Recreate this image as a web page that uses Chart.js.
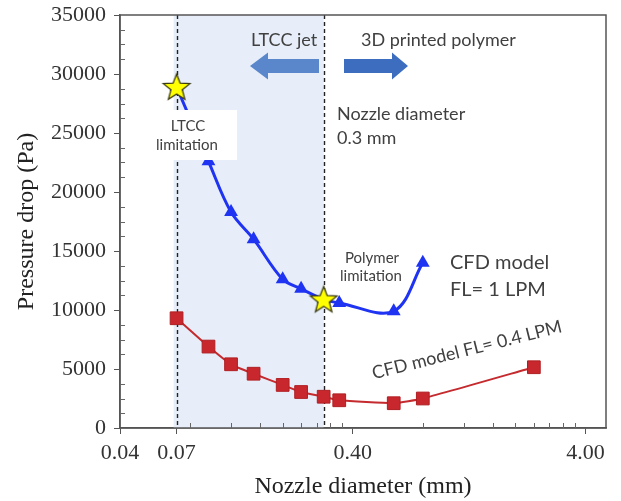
<!DOCTYPE html>
<html>
<head>
<meta charset="utf-8">
<script src="https://cdn.jsdelivr.net/npm/chart.js@4.4.1/dist/chart.umd.min.js"></script>
<style>
html, body { margin: 0; padding: 0; background: #fff; }
</style>
</head>
<body>
<canvas id="chart" width="621" height="501"></canvas>
<script>
// Nozzle diameters (mm)
const diameters = [0.07, 0.096, 0.12, 0.15, 0.2, 0.24, 0.3, 0.35, 0.6, 0.8, 2.4];
// Pressure drop (Pa) - CFD model FL = 1 LPM
const dropFl1 = [28900, 22600, 18300, 16000, 12600, 11800, 10900, 10600, 9900, 14000];
// Pressure drop (Pa) - CFD model FL = 0.4 LPM
const dropFl04 = [9300, 6900, 5400, 4600, 3650, 3050, 2650, 2350, 2100, 2500, 5150];
// LTCC / polymer limitation stars
const limitX = [0.07, 0.3];
const limitY = [28900, 10900];

// Axis ticks
const xTicks = [0.04, 0.07, 0.4, 4];
const xMinorTicks = [0.08, 0.12, 0.16, 0.2, 0.24, 0.28, 0.32, 0.36, 0.8, 1.2, 1.6, 2.0, 2.4, 2.8, 3.2, 3.6];
const yMajorStep = 5000;
const yMinorStep = 1250;

// Shaded LTCC jet range (mm)
const ltccRange = [0.07, 0.3];

const serif = "'Liberation Serif', 'Times New Roman', serif";
const sans = "Lato, 'Open Sans', sans-serif";

// Yellow star used as point style
function makeStar(r, inner) {
    const c = document.createElement('canvas');
    c.width = c.height = Math.ceil(r * 2 + 4);
    const g = c.getContext('2d');
    const cx = c.width / 2, cy = c.height / 2 + 1;
    g.beginPath();
    for (let i = 0; i < 10; i++) {
        const rad = i % 2 === 0 ? r : inner;
        const a = -Math.PI / 2 + i * Math.PI / 5;
        const px = cx + rad * Math.cos(a), py = cy + rad * Math.sin(a);
        if (i === 0) g.moveTo(px, py); else g.lineTo(px, py);
    }
    g.closePath();
    g.fillStyle = '#ffff00';
    g.fill();
    g.strokeStyle = '#3b3b10';
    g.lineWidth = 1.3;
    g.stroke();
    return c;
}
const starImg = makeStar(14, 6);

// Background shading + dashed limit lines
const backgroundPlugin = {
    id: 'background',
    beforeDatasetsDraw(chart) {
        const { ctx, chartArea, scales } = chart;
        const x0 = scales.x.getPixelForValue(ltccRange[0]);
        const x1 = scales.x.getPixelForValue(ltccRange[1]);
        ctx.save();
        ctx.fillStyle = '#e7eef9';
        ctx.fillRect(x0 - 3, chartArea.top, x1 - x0 + 3, chartArea.bottom - chartArea.top);
        ctx.strokeStyle = '#222';
        ctx.lineWidth = 1.4;
        ctx.setLineDash([4, 3]);
        ltccRange.forEach(v => {
            const px = Math.round(scales.x.getPixelForValue(v)) + 0.5;
            ctx.beginPath();
            ctx.moveTo(px, chartArea.top);
            ctx.lineTo(px, chartArea.bottom);
            ctx.stroke();
        });
        ctx.restore();
    }
};

function arrow(ctx, tail, tip, y, bodyH, headH, headL, color) {
    const dir = Math.sign(tip - tail);
    const base = tip - dir * headL;
    ctx.beginPath();
    ctx.moveTo(tail, y - bodyH / 2);
    ctx.lineTo(base, y - bodyH / 2);
    ctx.lineTo(base, y - headH / 2);
    ctx.lineTo(tip, y);
    ctx.lineTo(base, y + headH / 2);
    ctx.lineTo(base, y + bodyH / 2);
    ctx.lineTo(tail, y + bodyH / 2);
    ctx.closePath();
    ctx.fillStyle = color;
    ctx.fill();
}

// Frame, minor ticks and text annotations
const overlayPlugin = {
    id: 'overlay',
    afterDraw(chart) {
        const { ctx, chartArea, scales } = chart;
        ctx.save();

        // frame
        ctx.strokeStyle = '#555';
        ctx.lineWidth = 1.5;
        ctx.strokeRect(chartArea.left, chartArea.top, chartArea.right - chartArea.left, chartArea.bottom - chartArea.top);

        // minor ticks
        ctx.lineWidth = 1;
        ctx.strokeStyle = '#666';
        xMinorTicks.forEach(v => {
            const px = Math.round(scales.x.getPixelForValue(v)) + 0.5;
            ctx.beginPath();
            ctx.moveTo(px, chartArea.bottom);
            ctx.lineTo(px, chartArea.bottom - 5);
            ctx.stroke();
        });
        for (let v = yMinorStep; v < scales.y.max; v += yMinorStep) {
            if (v % yMajorStep === 0) continue;
            const py = Math.round(scales.y.getPixelForValue(v)) + 0.5;
            ctx.beginPath();
            ctx.moveTo(chartArea.left, py);
            ctx.lineTo(chartArea.left + 5, py);
            ctx.stroke();
        }

        // LTCC limitation box
        ctx.fillStyle = '#fff';
        ctx.fillRect(138, 110, 99, 50);

        ctx.fillStyle = '#404040';
        ctx.textAlign = 'center';
        ctx.textBaseline = 'middle';
        ctx.font = `15px ${sans}`;
        ctx.fillText('LTCC', 188, 126);
        ctx.fillText('limitation', 187, 145);
        ctx.fillText('Polymer', 372, 258);
        ctx.fillText('limitation', 371, 276);

        ctx.textAlign = 'left';
        ctx.font = `18px ${sans}`;
        ctx.fillText('LTCC jet', 251, 40);
        ctx.fillText('3D printed polymer', 361, 40);
        ctx.fillText('Nozzle diameter', 337, 114);
        ctx.fillText('0.3 mm', 337, 138);
        ctx.font = `20px ${sans}`;
        ctx.fillText('CFD model', 450, 263);
        ctx.fillText('FL= 1 LPM', 450, 290);

        ctx.save();
        ctx.translate(467, 350);
        ctx.rotate(-14 * Math.PI / 180);
        ctx.textAlign = 'center';
        ctx.font = `18px ${sans}`;
        ctx.fillText('CFD model FL= 0.4 LPM', 0, 0);
        ctx.restore();

        // direction arrows
        arrow(ctx, 319, 250, 66, 14, 27, 18, '#5a87cc');
        arrow(ctx, 344, 408, 66, 14, 27, 16, '#3d6dbf');

        ctx.restore();
    }
};

const ctx = document.getElementById('chart').getContext('2d');
new Chart(ctx, {
    type: 'line',
    data: {
        datasets: [
            {
                label: 'Limitation',
                data: limitX.map((x, i) => ({ x, y: limitY[i] })),
                showLine: false,
                pointStyle: starImg,
                pointRadius: 14
            },
            {
                label: 'CFD model FL= 1 LPM',
                data: dropFl1.map((y, i) => ({ x: diameters[i], y })),
                borderColor: '#1f33f2',
                backgroundColor: '#1f33f2',
                borderWidth: 3,
                tension: 0.35,
                pointStyle: 'triangle',
                pointRadius: 8,
                pointBorderWidth: 0
            },
            {
                label: 'CFD model FL= 0.4 LPM',
                data: dropFl04.map((y, i) => ({ x: diameters[i], y })),
                borderColor: '#c42a2e',
                backgroundColor: '#c8282d',
                pointBorderColor: '#b01e22',
                borderWidth: 2,
                tension: 0.15,
                pointStyle: 'rect',
                pointRadius: 9,
                pointBorderWidth: 1
            }
        ]
    },
    options: {
        responsive: false,
        animation: false,
        layout: { padding: { left: 0, right: 8, top: 15, bottom: 0 } },
        plugins: {
            legend: { display: false },
            tooltip: { enabled: false }
        },
        scales: {
            x: {
                type: 'logarithmic',
                min: 0.04,
                max: 4.9,
                afterBuildTicks: (scale) => {
                    scale.ticks = xTicks.map(v => ({ value: v }));
                },
                afterFit: (scale) => {
                    scale.height = 73;
                    scale.paddingLeft = 0;
                    scale.paddingRight = 0;
                },
                ticks: {
                    autoSkip: false,
                    maxRotation: 0,
                    padding: 6,
                    color: '#333',
                    font: { family: serif, size: 22 },
                    callback: (v) => Number(v).toFixed(2)
                },
                grid: { drawOnChartArea: false, color: '#555', tickLength: 6 },
                border: { color: '#555', width: 1.5 },
                title: {
                    display: true,
                    text: 'Nozzle diameter (mm)',
                    color: '#222',
                    font: { family: serif, size: 24 },
                    padding: { top: 0, bottom: 0 }
                }
            },
            y: {
                min: 0,
                max: 35000,
                afterFit: (scale) => {
                    scale.width = 120;
                    scale.paddingTop = 0;
                    scale.paddingBottom = 0;
                },
                ticks: {
                    stepSize: yMajorStep,
                    padding: 8,
                    color: '#333',
                    font: { family: serif, size: 22 },
                    callback: (v) => String(v)
                },
                grid: { drawOnChartArea: false, color: '#555', tickLength: 6 },
                border: { color: '#555', width: 1.5 },
                title: {
                    display: true,
                    text: 'Pressure drop (Pa)',
                    color: '#222',
                    font: { family: serif, size: 24 },
                    padding: { top: 12, bottom: 0 }
                }
            }
        }
    },
    plugins: [backgroundPlugin, overlayPlugin]
});
</script>
</body>
</html>
